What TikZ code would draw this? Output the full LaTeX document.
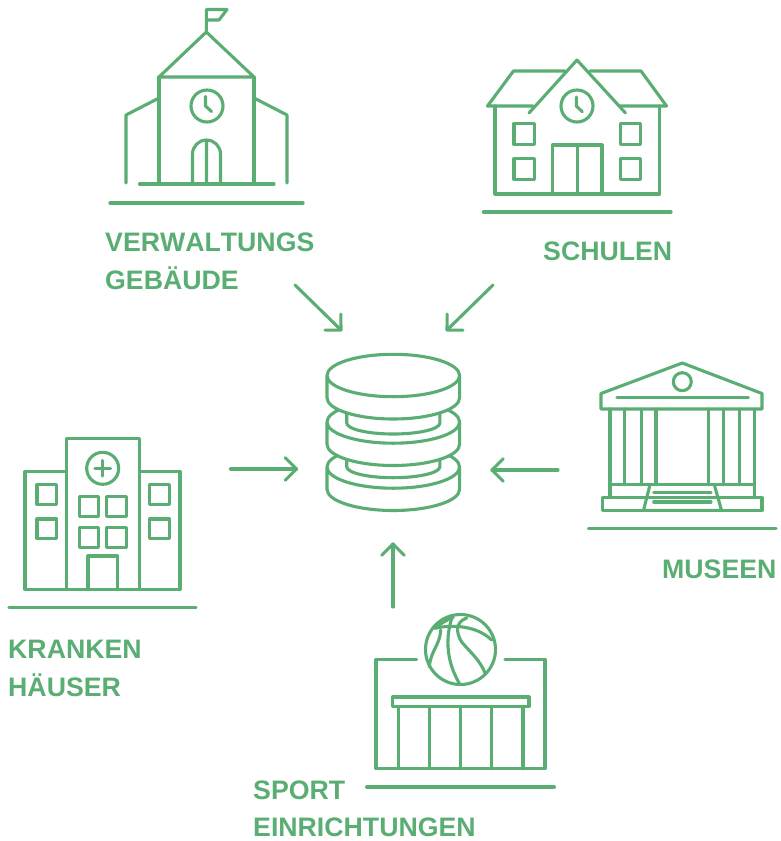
\documentclass[tikz,border=0pt]{standalone}
\usepackage{fontspec}
\setmainfont[Kerning=Off]{Liberation Sans}
\definecolor{grn}{HTML}{5AAE73}
\pgfarrowsdeclare{openvee}{openvee}{\pgfarrowsleftextend{-12pt}\pgfarrowsrightextend{0pt}}{
  \pgfsetroundcap\pgfsetroundjoin
  \pgfpathmoveto{\pgfpoint{-11.3pt}{11.3pt}}
  \pgfpathlineto{\pgfpoint{0pt}{0pt}}
  \pgfpathlineto{\pgfpoint{-11.3pt}{-11.3pt}}
  \pgfusepathqstroke}
\tikzset{
  ln/.style={draw=grn,line width=3.1pt,line cap=round,line join=round},
  thk/.style={ln,line width=3.3pt},
  lbl/.style={text=grn,font=\bfseries\fontsize{26.7}{37.5}\selectfont,anchor=north west,align=left,inner sep=0pt},
  con/.style={ln,-openvee}
}
\begin{document}
\begin{tikzpicture}[x=1pt,y=-1pt]
\useasboundingbox (0,0) rectangle (781,841);
\fill[white] (0,0) rectangle (781,841);
% church
\draw[ln] (206.3,32) -- (206.3,9.5) -- (227,9.5) -- (219,20) -- (206.3,20);
\draw[ln] (159,77) -- (206.3,32) -- (254,77) -- cycle;
\draw[ln] (159,77) -- (159,184) (254,77) -- (254,184);
\draw[ln] (207,106) circle (16);
\draw[ln] (205.5,96.5) -- (205.5,106) -- (211.5,111.5);
\draw[ln] (192.5,184) -- (192.5,154) arc (180:360:14) -- (220.5,184) (206.5,140) -- (206.5,184);
\draw[ln] (159,98) -- (126,115) -- (126,183) (254,98) -- (287,115) -- (287,183);
\draw[ln] (139.5,184) -- (274,184);
\draw[thk] (110,203) -- (303,203);
% school
\draw[ln] (533,106) -- (487.5,106) -- (513.5,71) -- (565,71) (590,71) -- (641,71) -- (666.5,106) -- (620,106);
\draw[ln] (529,113) -- (577,60) -- (625.5,113);
\draw[ln] (495,106) -- (495,194) -- (659.5,194) -- (659.5,106);
\draw[ln] (577,106) circle (16);
\draw[ln] (576.3,97) -- (576.3,106) -- (582.3,111.7);
\foreach \xa in {514,620.5} \foreach \ya in {123.7,158.7}
  \draw[ln] (\xa,\ya) rectangle ++(20.3,20.6);
\draw[ln] (552.5,194) -- (552.5,145) -- (602,145) -- (602,194) (577.3,145) -- (577.3,194);
\draw[thk] (483.5,212) -- (671,212);
% database
\newcommand{\disk}[1]{
  \draw[ln,fill=white] (327,#1) -- (327,#1+22.3) arc[start angle=180,end angle=0,x radius=66.3,y radius=21.2] -- (459.6,#1) arc[start angle=0,end angle=-360,x radius=66.3,y radius=21.2];
}
\newcommand{\neck}[1]{
  \draw[ln] (346.7,#1-10) -- (346.7,#1) arc[start angle=180,end angle=0,x radius=46.6,y radius=11] -- (439.9,#1-10);
}
\disk{467}
\neck{466.7}
\disk{422}
\neck{423}
\disk{375.5}
% museum
\draw[ln] (601,393.5) -- (682.3,363) -- (762,393.5) -- (762,409) -- (601,409) -- cycle;
\draw[ln] (617,397.7) -- (748.3,397.7);
\draw[ln] (682.3,381.7) circle (9);
\foreach \xa in {610,624.7,641.3,656,708.7,723.3,739.7,754.3}
  \draw[ln] (\xa,409) -- (\xa,484.7);
\draw[ln] (610,484.7) -- (754.3,484.7);
\draw[ln] (610,484.7) -- (610,497.7) (754.3,484.7) -- (754.3,497.7);
\draw[ln] (602.7,497.7) rectangle (762,510.3);
\draw[ln] (650,484.7) -- (643.5,510.3) -- (721.5,510.3) -- (714.3,484.7);
\draw[ln] (653.7,492.7) -- (711,492.7) (653.7,502) -- (711,502);
\draw[thk] (588.5,528.3) -- (776,528.3);
% hospital
\draw[ln] (66.7,589.3) -- (66.7,438.3) -- (139.3,438.3) -- (139.3,589.3);
\draw[ln] (66.7,471.7) -- (25,471.7) -- (25,589.3) -- (180,589.3) -- (180,471.7) -- (139.3,471.7);
\draw[ln] (102.7,468.3) circle (16);
\draw[ln] (95,468.3) -- (110.7,468.3) (102.7,460.5) -- (102.7,476);
\foreach \xa/\ya in {37/484.7,37/519,149.7/484.7,149.7/519,79.3/496.7,106.7/496.7,79.3/527.7,106.7/527.7}
  \draw[ln] (\xa,\ya) rectangle ++(19.6,19.5);
\draw[ln] (88,589.3) -- (88,556) -- (117.3,556) -- (117.3,589.3);
\draw[thk] (9,607.7) -- (196,607.7);
% sports
\draw[ln] (416.7,659.3) -- (376,659.3) -- (376,768.7) -- (545,768.7) -- (545,659.3) -- (505,659.3);
\draw[ln] (392.7,697) rectangle (529,706.3);
\foreach \xa in {398.7,429.3,460.7,491.7,523}
  \draw[ln] (\xa,706.3) -- (\xa,768.7);
\draw[thk] (366.7,787) -- (554.3,787);
\draw[ln] (460.5,649.5) circle (35);
\draw[ln] (451.7,618.3) .. controls (445,640) and (447,662) .. (459.3,683.3);
\draw[ln] (435,628.3) .. controls (448,625) and (475,624) .. (491.7,640);
\draw[ln] (466.7,618) .. controls (455,622) and (456,633) .. (461.7,642) .. controls (470,652) and (480,660) .. (485,673);
\draw[ln] (440.7,630) .. controls (440,645) and (431,650) .. (429.3,666.7);
\draw[ln] (435,628.3) .. controls (440,624) and (446,620) .. (453.3,617.3);
% arrows
\coordinate (c1a) at (295,285); \coordinate (c1b) at (341,330);
\coordinate (c2a) at (493,285); \coordinate (c2b) at (447,330);
\coordinate (c3a) at (230.5,469); \coordinate (c3b) at (296.5,469);
\coordinate (c4a) at (558,470); \coordinate (c4b) at (492,470);
\coordinate (c5a) at (393,607); \coordinate (c5b) at (393,544);
\draw[con] (c1a) -- (c1b);
\draw[con] (c2a) -- (c2b);
\draw[con] (c3a) -- (c3b);
\draw[con] (c4a) -- (c4b);
\draw[con] (c5a) -- (c5b);
% labels
\node[lbl] (l1) at (105,233) {VERWALTUNGS\\GEBÄUDE};
\node[lbl] (l2) at (543,242) {SCHULEN};
\node[lbl] (l3) at (662,560) {MUSEEN};
\node[lbl] (l4) at (8,640) {KRANKEN\\HÄUSER};
\node[lbl] (l5) at (253,780.5) {SPORT\\EINRICHTUNGEN};
\end{tikzpicture}
\end{document}
